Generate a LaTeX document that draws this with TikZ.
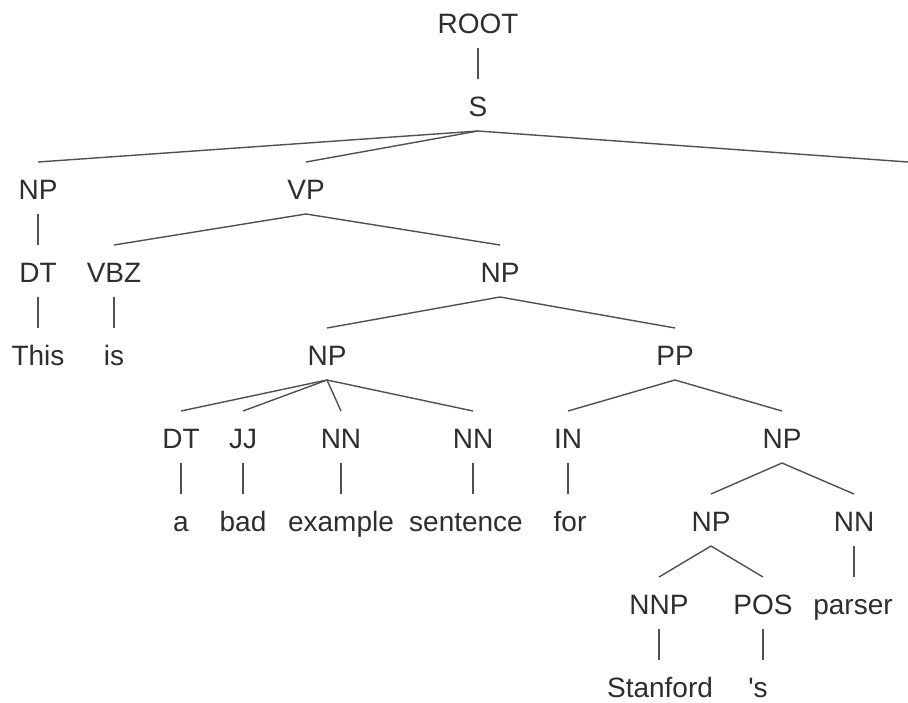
\documentclass[tikz,border=0pt]{standalone}
\usepackage{fontspec}
\setmainfont{Liberation Sans}
\definecolor{txtgray}{HTML}{2E2E2E}
\definecolor{linegray}{HTML}{505050}
\tikzset{
  lbl/.style={inner sep=0pt, outer sep=0pt, text height=20pt, text depth=0pt, anchor=center,
    font=\fontsize{28}{32}\selectfont, text=txtgray},
  branch/.style={draw=linegray, line width=1.4pt},
}
\newcommand{\tedge}[2]{\draw[branch] ([yshift=-25pt]#1.center) -- ([yshift=27pt]#2.center);}
\newcommand{\tleaf}[2]{\draw[branch] ([yshift=-25pt]#1.center) -- ([yshift=27pt]#1.center |- #2.center);}
\begin{document}
\begin{tikzpicture}[x=1pt,y=-1pt]
\useasboundingbox (0,0) rectangle (908,702);
\fill[white] (0,0) rectangle (908,702);
% level 0-1
\node[lbl] (root) at (478,23) {ROOT};
\node[lbl] (s) at (478,106) {S};
% level 2
\node[lbl] (np1) at (38,189) {NP};
\node[lbl] (vp) at (306,189) {VP};
\coordinate (dot) at (908,162);
% level 3
\node[lbl] (dt1) at (38,272) {DT};
\node[lbl] (vbz) at (114,272) {VBZ};
\node[lbl] (np2) at (500,272) {NP};
% level 4
\node[lbl] (this) at (38,355) {This};
\node[lbl] (is) at (114,355) {is};
\node[lbl] (np3) at (327,355) {NP};
\node[lbl] (pp) at (675,355) {PP};
% level 5
\node[lbl] (dt2) at (181,438) {DT};
\node[lbl] (jj) at (243,438) {JJ};
\node[lbl] (nn1) at (341,438) {NN};
\node[lbl] (nn2) at (473,438) {NN};
\node[lbl] (in) at (568,438) {IN};
\node[lbl] (np4) at (782,438) {NP};
% level 6
\node[lbl] (a) at (181,521) {a};
\node[lbl] (bad) at (243,521) {bad};
\node[lbl] (example) at (341,521) {example};
\node[lbl] (sentence) at (466,521) {sentence};
\node[lbl] (for) at (570,521) {for};
\node[lbl] (np5) at (711,521) {NP};
\node[lbl] (nn3) at (854,521) {NN};
% level 7
\node[lbl] (nnp) at (659,604) {NNP};
\node[lbl] (pos) at (763,604) {POS};
\node[lbl] (parser) at (853,604) {parser};
% level 8
\node[lbl] (stanford) at (660,687) {Stanford};
\node[lbl] (aps) at (758,687) {\textquotesingle s};
% connectors
\tedge{root}{s}
\tedge{s}{np1}
\tedge{s}{vp}
\draw[branch] ([yshift=-25pt]s.center) -- (dot);
\tleaf{np1}{dt1}
\tedge{vp}{vbz}
\tedge{vp}{np2}
\tleaf{dt1}{this}
\tleaf{vbz}{is}
\tedge{np2}{np3}
\tedge{np2}{pp}
\tedge{np3}{dt2}
\tedge{np3}{jj}
\tedge{np3}{nn1}
\tedge{np3}{nn2}
\tedge{pp}{in}
\tedge{pp}{np4}
\tleaf{dt2}{a}
\tleaf{jj}{bad}
\tleaf{nn1}{example}
\tleaf{nn2}{sentence}
\tleaf{in}{for}
\tedge{np4}{np5}
\tedge{np4}{nn3}
\tedge{np5}{nnp}
\tedge{np5}{pos}
\tleaf{nn3}{parser}
\tleaf{nnp}{stanford}
\tleaf{pos}{aps}
\end{tikzpicture}
\end{document}
